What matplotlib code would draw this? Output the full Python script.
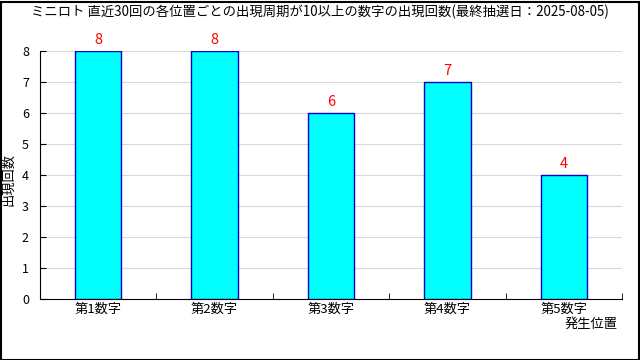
import matplotlib
matplotlib.use("Agg")
import matplotlib.pyplot as plt
from matplotlib.patches import Rectangle

plt.rcParams['font.family'] = ['Noto Sans CJK JP', 'DejaVu Sans']

categories = ["第1数字", "第2数字", "第3数字", "第4数字", "第5数字"]
counts = [8, 8, 6, 7, 4]
yticks = [0, 1, 2, 3, 4, 5, 6, 7, 8]

fig = plt.figure(figsize=(6.4, 3.6), dpi=100)
ax = fig.add_axes([40 / 640, 1 - 299 / 360, 582 / 640, 248 / 360])

xs = range(len(categories))
ax.bar(xs, counts, width=0.4, color="#00ffff", edgecolor="#0000cc", linewidth=1, zorder=3)
for x, v in zip(xs, counts):
    ax.text(x, v + 0.12, str(v), color="red", ha="center", va="bottom", fontsize=10.5)

ax.set_xlim(-0.5, len(categories) - 0.5)
ax.set_ylim(0, 8)
ax.set_yticks(yticks)
ax.set_yticklabels([str(t) for t in yticks], fontsize=9)
ax.yaxis.grid(True, color="#d8d8d8", linewidth=0.8, zorder=0)
ax.set_xticks(list(xs))
ax.set_xticklabels(categories, fontsize=9.5)
ax.tick_params(axis="x", length=0, pad=3)
ax.tick_params(axis="y", direction="in", length=4, pad=8)
# category boundary ticks
ax.set_xticks([i + 0.5 for i in range(len(categories))], minor=True)
ax.tick_params(axis="x", which="minor", direction="in", length=4)
for s in ["top", "right"]:
    ax.spines[s].set_visible(False)

fig.text(0.5, 1 - 12 / 360, "ミニロト 直近30回の各位置ごとの出現周期が10以上の数字の出現回数(最終抽選日：2025-08-05)",
         ha="center", va="center", fontsize=9.6)
fig.text(9 / 640, 0.5, "出現回数", rotation=90, ha="center", va="center", fontsize=9.5)
fig.text(618 / 640, 1 - 324 / 360, "発生位置", ha="right", va="center", fontsize=9.5)

fig.add_artist(Rectangle((0.5 / 640, 0.5 / 360), 638 / 640, 358 / 360, transform=fig.transFigure,
                         fill=False, edgecolor="black", linewidth=1.5))

fig.savefig("out.png", dpi=100)
